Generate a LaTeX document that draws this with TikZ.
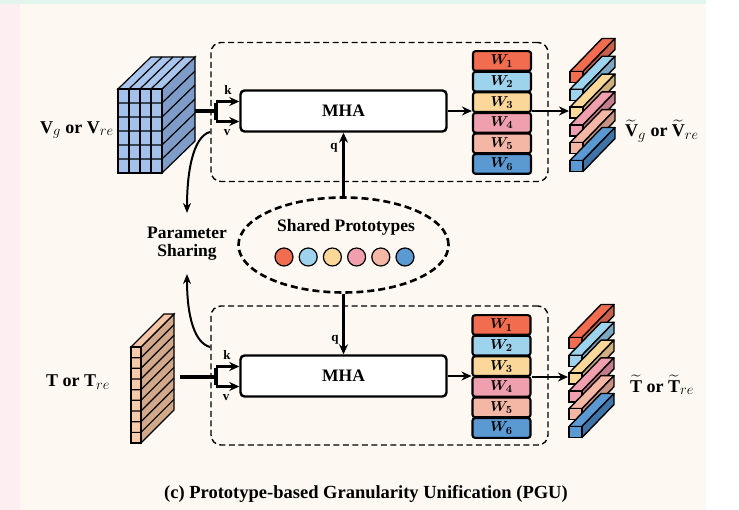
\documentclass[tikz,border=0pt]{standalone}
\usepackage{amsmath,bm}
\usepackage{fontspec}
\setmainfont{Liberation Serif}
\usetikzlibrary{arrows.meta,shapes.geometric,calc}
\definecolor{cream}{HTML}{FDF9F2}
\definecolor{pinkbg}{HTML}{FCEEF1}
\definecolor{greenbg}{HTML}{E2F5EC}
\definecolor{ca}{HTML}{F26D4F}\definecolor{cad}{HTML}{C6604A}
\definecolor{cb}{HTML}{9ED3EE}\definecolor{cbd}{HTML}{7CA7C2}
\definecolor{cc}{HTML}{FCD79A}\definecolor{ccd}{HTML}{CFB07C}
\definecolor{cd}{HTML}{EF9FAE}\definecolor{cdd}{HTML}{C47D8A}
\definecolor{ce}{HTML}{F4B7A6}\definecolor{ced}{HTML}{C89383}
\definecolor{cf}{HTML}{5B99D3}\definecolor{cfd}{HTML}{3F74A8}
\definecolor{vfront}{HTML}{A4C1EB}\definecolor{vside}{HTML}{7F9CC8}\definecolor{vtop}{HTML}{A9C5EC}
\definecolor{tfront}{HTML}{F7CAAA}\definecolor{tside}{HTML}{D1A88A}\definecolor{ttop}{HTML}{F3C5A5}
\tikzset{
  lbl/.style={font=\fontsize{17.5}{20}\selectfont\bfseries, align=center},
  small/.style={font=\fontsize{13}{14}\selectfont\bfseries, inner sep=0pt},
  mha/.style={draw, line width=2.4pt, rounded corners=4pt, fill=white, minimum width=206pt, minimum height=41pt, font=\fontsize{17.5}{20}\selectfont\bfseries},
  dbox/.style={draw, line width=1.4pt, dash pattern=on 6pt off 3.5pt, rounded corners=10pt, minimum width=337pt, minimum height=139pt},
  wbox/.style={draw, line width=2.1pt, rounded corners=2.5pt, minimum width=58pt, minimum height=19.6pt, inner sep=0pt, font=\fontsize{15.5}{15.5}\selectfont},
  arr/.style={line width=2.4pt, -{Stealth[length=10pt,width=9pt]}},
  thickln/.style={line width=4.5pt},
  bracket/.style={line width=3.4pt},
  dot/.style={circle, draw, line width=1.2pt, minimum size=18pt, inner sep=0pt},
  cubeln/.style={line width=1.2pt},
  curvearr/.style={line width=2pt, -{Stealth[length=10pt,width=8pt]}},
  sidelab/.style={font=\fontsize{18}{20}\selectfont\bfseries, inner sep=1pt},
}
\newcommand{\wlab}[1]{$\bm{W}_{\bm{#1}}$}
\newcommand{\sub}[1]{\text{\fontsize{14}{14}\selectfont$#1$}}
\begin{document}
\begin{tikzpicture}[x=1pt,y=-1pt]
\useasboundingbox (0,0) rectangle (739,510);
\fill[pinkbg] (0,0) rectangle (20,510);
\fill[cream] (20,4) rectangle (706,510);
\fill[greenbg] (0,0) rectangle (706,4);

% dashed boxes
\node[dbox] (box1) at (379.5,112) {};
\node[dbox] (box2) at (379.5,375.5) {};

% ===== V cube =====
\filldraw[fill=vside, cubeln] (162,89) -- (195,57) -- (195,141) -- (162,173) -- cycle;
\filldraw[fill=vtop, cubeln] (118,89) -- (151,57) -- (195,57) -- (162,89) -- cycle;
\filldraw[fill=vfront, cubeln] (118,89) rectangle (162,173);
\foreach \i in {1,2,3} {
  \draw[cubeln] (118+11*\i,89) -- ++(0,84);
  \draw[cubeln] (118+11*\i,89) -- ++(33,-32);
}
\foreach \j in {1,...,5} {
  \draw[cubeln] (118,89+14*\j) -- (162,89+14*\j) -- ++(33,-32);
}
\coordinate (vout) at (195,111);

% ===== T pad =====
\filldraw[fill=tside, cubeln] (141,347) -- (174,314) -- (174,410) -- (141,443) -- cycle;
\filldraw[fill=ttop, cubeln] (131,347) -- (164,314) -- (174,314) -- (141,347) -- cycle;
\filldraw[fill=tfront, cubeln] (131,347) rectangle (141,443);
\foreach \j in {1,...,8} {
  \draw[cubeln] (131,347+10.67*\j) -- (141,347+10.67*\j) -- ++(33,-33);
}
\coordinate (tout) at (180,377);

% ===== labels left =====
\node[sidelab] (vlab) at (77,130) {$\mathbf{V}_{\sub{g}}$ or $\mathbf{V}_{\sub{re}}$};
\node[sidelab] (tlab) at (78,382) {$\mathbf{T}$ or $\mathbf{T}_{\sub{re}}$};

% ===== MHA =====
\node[mha] (mha1) at (343.5,111) {MHA};
\node[mha] (mha2) at (343.5,376) {MHA};

% connectors into MHA (top)
\coordinate (br1) at (216,111);
\coordinate (k1) at (216,101.5);
\coordinate (v1) at (216,121.5);
\draw[thickln] (vout) -- (br1);
\draw[bracket] ([yshift=-1.7pt]k1) -- ([yshift=1.7pt]v1);
\draw[arr] (k1) -- (k1 -| mha1.west);
\draw[arr] (v1) -- (v1 -| mha1.west);
\node[small] (klab1) at (228,90) {k};
\node[small] (vlab1) at (227,133) {v};

% connectors into MHA (bottom)
\coordinate (br2) at (216,377);
\coordinate (k2) at (216,366.5);
\coordinate (v2) at (216,386.5);
\draw[thickln] (tout) -- (br2);
\draw[bracket] ([yshift=-1.7pt]k2) -- ([yshift=1.7pt]v2);
\draw[arr] (k2) -- (k2 -| mha2.west);
\draw[arr] (v2) -- (v2 -| mha2.west);
\node[small] (klab2) at (227,355) {k};
\node[small] (vlab2) at (226,398) {v};

% ===== W stacks =====
\foreach \n/\c [count=\i from 0] in {1/ca,2/cb,3/cc,4/cd,5/ce,6/cf} {
  \node[wbox, fill=\c] (wa\n) at (502,61+20.6*\i) {\wlab{\n}};
  \node[wbox, fill=\c] (wb\n) at (501.5,325+20.6*\i) {\wlab{\n}};
}
\draw[arr] (mha1.east) -- (mha1.east -| wa1.west);
\draw[arr] (mha2.east) -- (mha2.east -| wb1.west);

% ===== output bars =====
\foreach \c/\d [count=\i from 0] in {ca/cad,cb/cbd,cc/ccd,cd/cdd,ce/ced,cf/cfd} {
  \pgfmathsetmacro{\ya}{71.5+17.8*\i}
  \pgfmathsetmacro{\yb}{337.5+17.8*\i}
  \foreach \x/\y in {570/\ya,569/\yb} {
    \filldraw[fill=\c, line width=1.4pt, line join=round] (\x,\y) -- ++(32,-33) -- ++(13,0) -- (\x+13,\y) -- cycle;
    \filldraw[fill=\d, line width=1.4pt, line join=round] (\x+13,\y) -- ++(32,-33) -- ++(0,11) -- (\x+13,\y+11) -- cycle;
    \filldraw[fill=\c, line width=1.4pt] (\x,\y) rectangle (\x+13,\y+11);
  }
}
\coordinate (oa) at (569,111);
\coordinate (ob) at (568,377);
\draw[arr] (wa3.east |- oa) -- (oa);
\draw[arr] (wb3.east |- ob) -- (ob);

\node[sidelab] (vtl) at (662,131) {$\widetilde{\mathbf{V}}_{\sub{g}}$ or $\widetilde{\mathbf{V}}_{\sub{re}}$};
\node[sidelab] (ttl) at (662,385) {$\widetilde{\mathbf{T}}$ or $\widetilde{\mathbf{T}}_{\sub{re}}$};

% ===== Shared prototypes =====
\node[ellipse, draw, line width=2.6pt, dash pattern=on 7pt off 4pt, minimum width=210pt, minimum height=95pt] (proto) at (343.5,245) {};
\node[lbl] (sp) at (346,227) {Shared Prototypes};
\foreach \c [count=\i from 0] in {ca,cb,cc,cd,ce,cf} {
  \node[dot, fill=\c] (p\i) at (284+24.2*\i,257) {};
}
\draw[arr] (proto.north) -- (mha1.south);
\draw[arr] (proto.south) -- (mha2.north);
\node[small] (q1) at (334,148) {q};
\node[small] (q2) at (335,340) {q};

% ===== Parameter sharing =====
\node[lbl, inner sep=0pt] (ps) at (187,243.5) {Parameter\\[-2pt]Sharing};
\coordinate (c1) at (210,132);
\coordinate (c2) at (210,347);
\coordinate (psT) at (187,213);
\coordinate (psB) at (187,274);
\draw[curvearr] (c1) .. controls (195,136) and (187,165) .. (psT);
\draw[curvearr] (c2) .. controls (195,343) and (187,318) .. (psB);

% caption
\node[lbl, font=\fontsize{18.5}{20}\selectfont\bfseries] (cap) at (366,494) {(c) Prototype-based Granularity Unification (PGU)};
\end{tikzpicture}
\end{document}
